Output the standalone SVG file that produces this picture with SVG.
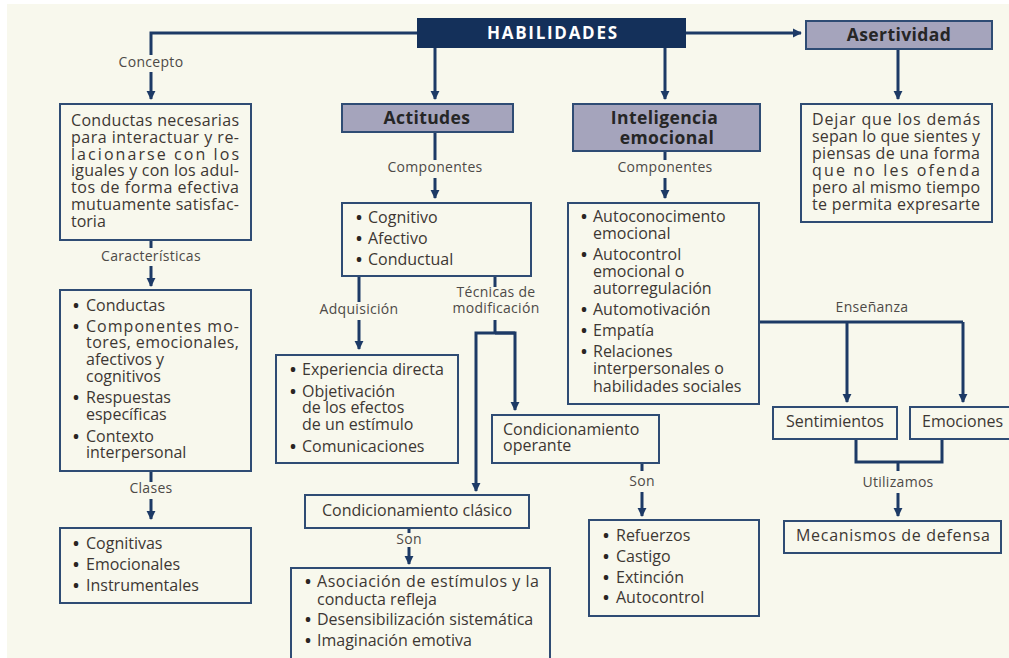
<svg xmlns="http://www.w3.org/2000/svg" width="1009" height="658" viewBox="0 0 1009 658">
  <defs>
    <marker id="arrow" viewBox="0 0 10 10" refX="9" refY="5" markerWidth="9" markerHeight="11" markerUnits="userSpaceOnUse" orient="auto">
      <path d="M0,0 L10,5 L0,10 Z" fill="#1d3a66"/>
    </marker>
    <style>
      .bg { fill: #f8f8ed; }
      .box { fill: #f8f8ed; stroke: #2f4c74; stroke-width: 2; }
      .head { fill: #a5a4bc; stroke: #2f4c74; stroke-width: 2; }
      .top { fill: #14305a; stroke: #14305a; stroke-width: 2; }
      .ln { fill: none; stroke: #1d3a66; stroke-width: 3; }
      .arr { fill: none; stroke: #1d3a66; stroke-width: 3; marker-end: url(#arrow); }
      text { font-family: "Open Sans", "Noto Sans", "DejaVu Sans", sans-serif; }
      .t { font-size: 16px; fill: #3d3733; }
      .b { font-weight: bold; fill: #2a2522; }
      .lbl { font-size: 14px; fill: #4d4a47; text-anchor: middle; letter-spacing: 0.3px; }
      .h { font-size: 17.5px; font-weight: bold; fill: #262626; text-anchor: middle; letter-spacing: 0.4px; }
      .ht { font-size: 17px; font-weight: bold; fill: #ffffff; text-anchor: middle; }
    </style>
  </defs>

  <!-- page -->
  <rect x="0" y="0" width="1009" height="658" fill="#ffffff"/>
  <rect class="bg" x="7" y="4" width="1002" height="654"/>

  <!-- connectors -->
  <g id="connectors">
    <path class="ln" d="M418,33 H151 V55"/>
    <path class="arr" d="M151,72 V99"/>
    <path class="arr" d="M435,47 V99"/>
    <path class="arr" d="M665,47 V99"/>
    <path class="arr" d="M685,33 H801"/>
    <path class="arr" d="M898,49 V99"/>

    <path class="ln" d="M151,240 V248"/>
    <path class="arr" d="M151,266 V286"/>
    <path class="ln" d="M151,471 V482"/>
    <path class="arr" d="M151,499 V519"/>

    <path class="ln" d="M435,132 V160"/>
    <path class="arr" d="M435,178 V198"/>
    <path class="ln" d="M359,276 V302"/>
    <path class="arr" d="M359,320 V349"/>
    <path class="ln" d="M495,276 V287"/>
    <path class="ln" d="M495,320 V333"/>
    <path class="arr" d="M515,333 H476 V491"/>
    <path class="arr" d="M495,333 H515 V410"/>
    <path class="ln" d="M409,528 V533"/>
    <path class="arr" d="M409,547 V564"/>
    <path class="ln" d="M642,463 V471"/>
    <path class="arr" d="M642,492 V516"/>

    <path class="ln" d="M665,151 V160"/>
    <path class="arr" d="M665,178 V198"/>
    <path class="ln" d="M759,322 H963"/>
    <path class="arr" d="M847,322 V402"/>
    <path class="arr" d="M963,322 V402"/>
    <path class="ln" d="M856,439 V462 H942 V439"/>
    <path class="ln" d="M898,462 V471"/>
    <path class="arr" d="M898,493 V516"/>

    <text class="lbl" x="151" y="67">Concepto</text>
    <text class="lbl" x="151" y="261">Características</text>
    <text class="lbl" x="151" y="493">Clases</text>
    <text class="lbl" x="435" y="172">Componentes</text>
    <text class="lbl" x="359" y="314">Adquisición</text>
    <text class="lbl" x="496" y="297">Técnicas de</text>
    <text class="lbl" x="496" y="313">modificación</text>
    <text class="lbl" x="665" y="172">Componentes</text>
    <text class="lbl" x="872" y="312">Enseñanza</text>
    <text class="lbl" x="642" y="486">Son</text>
    <text class="lbl" x="409" y="544">Son</text>
    <text class="lbl" x="898" y="487">Utilizamos</text>
  </g>

  <!-- root -->
  <g id="habilidades">
    <rect class="top" x="418" y="19" width="267" height="28"/>
    <text class="ht" x="552" y="39" textLength="130" lengthAdjust="spacing">HABILIDADES</text>
  </g>

  <!-- concept branch -->
  <g id="concepto">
    <rect class="box" x="60" y="104" width="191" height="136"/>
    <text class="t">
      <tspan x="71" y="126" textLength="168" lengthAdjust="spacing">Conductas necesarias</tspan>
      <tspan x="71" y="143" textLength="168" lengthAdjust="spacing">para interactuar y re-</tspan>
      <tspan x="71" y="160" textLength="168" lengthAdjust="spacing">lacionarse con los</tspan>
      <tspan x="71" y="176" textLength="168" lengthAdjust="spacing">iguales y con los adul-</tspan>
      <tspan x="71" y="193" textLength="168" lengthAdjust="spacing">tos de forma efectiva</tspan>
      <tspan x="71" y="210" textLength="168" lengthAdjust="spacing">mutuamente satisfac-</tspan>
      <tspan x="71" y="227">toria</tspan>
    </text>
  </g>

  <g id="caracteristicas">
    <rect class="box" x="60" y="290" width="191" height="181"/>
    <text class="t">
      <tspan class="b" x="73" y="311">•</tspan><tspan x="86" y="311">Conductas</tspan>
      <tspan class="b" x="73" y="332">•</tspan><tspan x="86" y="332" textLength="153" lengthAdjust="spacing">Componentes mo-</tspan>
      <tspan x="86" y="348" textLength="153" lengthAdjust="spacing">tores, emocionales,</tspan>
      <tspan x="86" y="365">afectivos y</tspan>
      <tspan x="86" y="382">cognitivos</tspan>
      <tspan class="b" x="73" y="403">•</tspan><tspan x="86" y="403">Respuestas</tspan>
      <tspan x="86" y="420">específicas</tspan>
      <tspan class="b" x="73" y="442">•</tspan><tspan x="86" y="442">Contexto</tspan>
      <tspan x="86" y="458">interpersonal</tspan>
    </text>
  </g>

  <g id="clases">
    <rect class="box" x="60" y="528" width="191" height="75"/>
    <text class="t">
      <tspan class="b" x="73" y="549">•</tspan><tspan x="86" y="549">Cognitivas</tspan>
      <tspan class="b" x="73" y="570">•</tspan><tspan x="86" y="570">Emocionales</tspan>
      <tspan class="b" x="73" y="591">•</tspan><tspan x="86" y="591">Instrumentales</tspan>
    </text>
  </g>

  <!-- attitudes branch -->
  <g id="actitudes">
    <rect class="head" x="342" y="104" width="171" height="28"/>
    <text class="h" x="427" y="124">Actitudes</text>
  </g>

  <g id="componentes-actitudes">
    <rect class="box" x="342" y="203" width="189" height="73"/>
    <text class="t">
      <tspan class="b" x="356" y="223">•</tspan><tspan x="368" y="223">Cognitivo</tspan>
      <tspan class="b" x="356" y="244">•</tspan><tspan x="368" y="244">Afectivo</tspan>
      <tspan class="b" x="356" y="265">•</tspan><tspan x="368" y="265">Conductual</tspan>
    </text>
  </g>

  <g id="adquisicion">
    <rect class="box" x="276" y="355" width="182" height="108"/>
    <text class="t">
      <tspan class="b" x="290" y="375">•</tspan><tspan x="302" y="375">Experiencia directa</tspan>
      <tspan class="b" x="290" y="397">•</tspan><tspan x="302" y="397">Objetivación</tspan>
      <tspan x="302" y="413">de los efectos</tspan>
      <tspan x="302" y="430">de un estímulo</tspan>
      <tspan class="b" x="290" y="452">•</tspan><tspan x="302" y="452">Comunicaciones</tspan>
    </text>
  </g>

  <g id="operante">
    <rect class="box" x="492" y="415" width="167" height="48"/>
    <text class="t">
      <tspan x="503" y="435">Condicionamiento</tspan>
      <tspan x="503" y="451">operante</tspan>
    </text>
  </g>

  <g id="clasico">
    <rect class="box" x="305" y="495" width="224" height="33"/>
    <text class="t" x="417" y="516" text-anchor="middle">Condicionamiento clásico</text>
  </g>

  <g id="clasico-tecnicas">
    <rect class="box" x="291" y="568" width="259" height="100"/>
    <text class="t">
      <tspan class="b" x="305" y="587">•</tspan><tspan x="317" y="587" textLength="222" lengthAdjust="spacing">Asociación de estímulos y la</tspan>
      <tspan x="317" y="605">conducta refleja</tspan>
      <tspan class="b" x="305" y="625">•</tspan><tspan x="317" y="625">Desensibilización sistemática</tspan>
      <tspan class="b" x="305" y="646">•</tspan><tspan x="317" y="646">Imaginación emotiva</tspan>
    </text>
  </g>

  <g id="operante-tecnicas">
    <rect class="box" x="589" y="520" width="170" height="96"/>
    <text class="t">
      <tspan class="b" x="603" y="541">•</tspan><tspan x="616" y="541">Refuerzos</tspan>
      <tspan class="b" x="603" y="562">•</tspan><tspan x="616" y="562">Castigo</tspan>
      <tspan class="b" x="603" y="583">•</tspan><tspan x="616" y="583">Extinción</tspan>
      <tspan class="b" x="603" y="603">•</tspan><tspan x="616" y="603">Autocontrol</tspan>
    </text>
  </g>

  <!-- emotional intelligence branch -->
  <g id="inteligencia-emocional">
    <rect class="head" x="573" y="104" width="187" height="47"/>
    <text class="h">
      <tspan x="667" y="124">Inteligencia</tspan>
      <tspan x="667" y="144">emocional</tspan>
    </text>
  </g>

  <g id="componentes-ie">
    <rect class="box" x="568" y="203" width="191" height="201"/>
    <text class="t">
      <tspan class="b" x="581" y="222">•</tspan><tspan x="593" y="222">Autoconocimento</tspan>
      <tspan x="593" y="239">emocional</tspan>
      <tspan class="b" x="581" y="260">•</tspan><tspan x="593" y="260">Autocontrol</tspan>
      <tspan x="593" y="277">emocional o</tspan>
      <tspan x="593" y="294">autorregulación</tspan>
      <tspan class="b" x="581" y="315">•</tspan><tspan x="593" y="315">Automotivación</tspan>
      <tspan class="b" x="581" y="336">•</tspan><tspan x="593" y="336">Empatía</tspan>
      <tspan class="b" x="581" y="357">•</tspan><tspan x="593" y="357">Relaciones</tspan>
      <tspan x="593" y="374">interpersonales o</tspan>
      <tspan x="593" y="392">habilidades sociales</tspan>
    </text>
  </g>

  <g id="sentimientos">
    <rect class="box" x="773" y="407" width="124" height="32"/>
    <text class="t" x="835" y="427" text-anchor="middle">Sentimientos</text>
  </g>

  <g id="emociones">
    <rect class="box" x="910" y="407" width="104" height="32"/>
    <text class="t" x="922" y="427">Emociones</text>
  </g>

  <g id="mecanismos">
    <rect class="box" x="784" y="521" width="217" height="32"/>
    <text class="t" x="796" y="541" textLength="194" lengthAdjust="spacing">Mecanismos de defensa</text>
  </g>

  <!-- assertiveness branch -->
  <g id="asertividad">
    <rect class="head" x="806" y="21" width="186" height="28"/>
    <text class="h" x="899" y="41">Asertividad</text>
  </g>

  <g id="asertividad-definicion">
    <rect class="box" x="801" y="104" width="191" height="118"/>
    <text class="t">
      <tspan x="812" y="125" textLength="168" lengthAdjust="spacing">Dejar que los demás</tspan>
      <tspan x="812" y="142" textLength="168" lengthAdjust="spacing">sepan lo que sientes y</tspan>
      <tspan x="812" y="159" textLength="168" lengthAdjust="spacing">piensas de una forma</tspan>
      <tspan x="812" y="176" textLength="168" lengthAdjust="spacing">que no les ofenda</tspan>
      <tspan x="812" y="193" textLength="168" lengthAdjust="spacing">pero al mismo tiempo</tspan>
      <tspan x="812" y="210" textLength="168" lengthAdjust="spacing">te permita expresarte</tspan>
    </text>
  </g>
</svg>
